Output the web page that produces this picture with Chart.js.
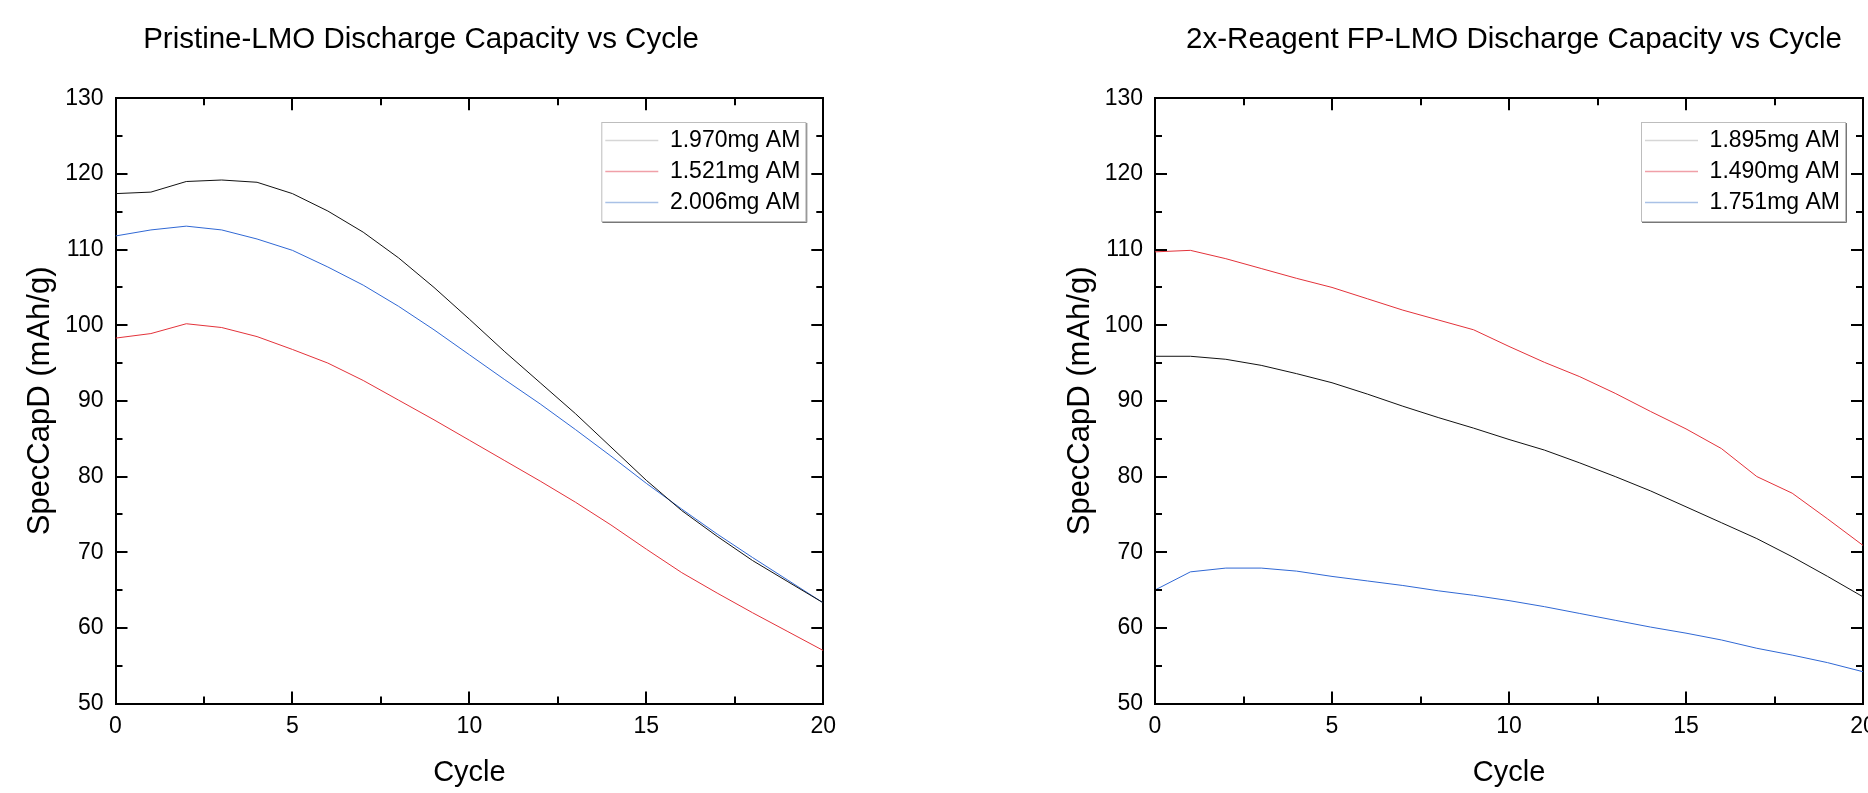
<!DOCTYPE html>
<html>
<head>
<meta charset="utf-8">
<title>Discharge Capacity vs Cycle</title>
<script src="https://cdn.jsdelivr.net/npm/chart.js@4.4.1/dist/chart.umd.min.js"></script>
<style>
  html, body { margin: 0; padding: 0; overflow: hidden; background: #fff; width: 1868px; height: 793px; }
  canvas { position: absolute; top: 0; }
  #left { left: 0; }
  #right { left: 934px; }
</style>
</head>
<body>
<canvas id="left" width="934" height="793"></canvas>
<canvas id="right" width="1160" height="793"></canvas>
<script>
const cycles = [0, 1, 2, 3, 4, 5, 6, 7, 8, 9, 10, 11, 12, 13, 14, 15, 16, 17, 18, 19, 20];

// Pristine-LMO
const pristineLabels = ['1.970mg AM', '1.521mg AM', '2.006mg AM'];
const pristine1970 = [117.4, 117.6, 119.0, 119.2, 118.9, 117.4, 115.1, 112.3, 108.9, 105.0, 100.8, 96.5, 92.4, 88.3, 83.9, 79.5, 75.5, 72.1, 68.9, 66.1, 63.3];
const pristine1521 = [98.3, 98.9, 100.2, 99.7, 98.5, 96.8, 95.0, 92.7, 90.1, 87.5, 84.8, 82.1, 79.4, 76.6, 73.6, 70.4, 67.3, 64.6, 62.0, 59.5, 57.0];
const pristine2006 = [111.8, 112.6, 113.1, 112.6, 111.4, 109.9, 107.7, 105.3, 102.5, 99.4, 96.1, 92.8, 89.6, 86.2, 82.7, 79.1, 75.7, 72.4, 69.3, 66.3, 63.3];

// 2x-Reagent FP-LMO
const reagentLabels = ['1.895mg AM', '1.490mg AM', '1.751mg AM'];
const reagent1895 = [95.9, 95.9, 95.5, 94.7, 93.6, 92.4, 90.9, 89.3, 87.8, 86.4, 84.9, 83.5, 81.8, 80.0, 78.1, 76.0, 73.9, 71.8, 69.4, 66.8, 64.1];
const reagent1490 = [109.7, 109.9, 108.8, 107.5, 106.2, 105.0, 103.5, 102.0, 100.7, 99.4, 97.2, 95.1, 93.2, 91.0, 88.6, 86.3, 83.7, 80.0, 77.8, 74.4, 70.9];
const reagent1751 = [65.0, 67.4, 67.9, 67.9, 67.5, 66.8, 66.2, 65.6, 64.9, 64.3, 63.6, 62.8, 61.9, 61.0, 60.1, 59.3, 58.4, 57.3, 56.4, 55.4, 54.2];

const lineColors = ['#111111', '#e3323a', '#3068d4'];
const legendColors = ['#d6d6d6', '#f0a0a8', '#a9c1e6'];
const FONT = '"Liberation Sans", Arial, sans-serif';

Chart.defaults.font.family = FONT;
Chart.defaults.color = '#000';

// inward major + minor ticks on all four sides
const frameTicks = {
  id: 'frameTicks',
  afterDatasetsDraw(chart) {
    const { ctx, chartArea: a, scales: { x, y } } = chart;
    const xMajor = x.ticks.map(t => t.value);
    const yMajor = y.ticks.map(t => t.value);
    const mids = v => v.slice(1).map((t, i) => (t + v[i]) / 2);
    ctx.save();
    ctx.strokeStyle = '#000';
    ctx.lineWidth = 2;
    ctx.beginPath();
    const vt = (val, len) => {
      const px = Math.round(x.getPixelForValue(val));
      ctx.moveTo(px, a.bottom); ctx.lineTo(px, a.bottom - len);
      ctx.moveTo(px, a.top); ctx.lineTo(px, a.top + len);
    };
    const ht = (val, len) => {
      const py = Math.round(y.getPixelForValue(val));
      ctx.moveTo(a.left, py); ctx.lineTo(a.left + len, py);
      ctx.moveTo(a.right, py); ctx.lineTo(a.right - len, py);
    };
    xMajor.forEach(v => vt(v, 12));
    mids(xMajor).forEach(v => vt(v, 7));
    yMajor.forEach(v => ht(v, 12));
    mids(yMajor).forEach(v => ht(v, 7));
    ctx.stroke();
    ctx.restore();
  }
};

// boxed legend inside the plot, top right
const insetLegend = {
  id: 'insetLegend',
  afterDraw(chart) {
    const { ctx, chartArea: a } = chart;
    const left = a.right - 222, right = a.right - 18, top = Math.round(a.top + 24), h = 99;
    ctx.save();
    ctx.fillStyle = '#fff';
    ctx.fillRect(left, top, right - left, h);
    ctx.strokeStyle = '#bdbdbd';
    ctx.lineWidth = 1;
    ctx.strokeRect(left + 0.5, top + 0.5, right - left, h);
    ctx.strokeStyle = '#777';
    ctx.beginPath();
    ctx.moveTo(left + 1, top + h + 1.5);
    ctx.lineTo(right + 1.5, top + h + 1.5);
    ctx.lineTo(right + 1.5, top + 1);
    ctx.stroke();
    ctx.font = '23px ' + FONT;
    ctx.textAlign = 'right';
    ctx.textBaseline = 'middle';
    chart.data.datasets.forEach((ds, i) => {
      const cy = top + 18.5 + i * 31;
      ctx.strokeStyle = legendColors[i];
      ctx.lineWidth = 1.3;
      ctx.beginPath();
      ctx.moveTo(a.right - 218, cy);
      ctx.lineTo(a.right - 165, cy);
      ctx.stroke();
      ctx.fillStyle = '#000';
      ctx.fillText(ds.label, a.right - 23, cy);
    });
    ctx.restore();
  }
};

const frameAxis = (position, min, max, fit) => ({
  type: 'linear', position, min, max,
  ticks: { display: false },
  grid: { display: false, drawTicks: false },
  border: { display: true, color: '#000', width: 2 },
  afterFit: fit
});

function makeChart(id, title, labels, series, g) {
  return new Chart(document.getElementById(id), {
    type: 'line',
    data: {
      datasets: series.map((vals, i) => ({
        label: labels[i],
        data: cycles.map((c, j) => ({ x: c, y: vals[j] })),
        borderColor: lineColors[i],
        borderWidth: 1,
        pointRadius: 0,
        tension: 0,
        fill: false
      }))
    },
    options: {
      responsive: false,
      animation: false,
      events: [],
      layout: { padding: { left: 0, right: g.padRight, top: 0, bottom: 0 } },
      plugins: {
        legend: { display: false },
        tooltip: { enabled: false },
        title: {
          display: true,
          text: title,
          color: '#000',
          font: { size: 29.5, weight: 'normal' },
          padding: { top: 22.3, bottom: 40.6 }
        }
      },
      scales: {
        x: {
          type: 'linear', position: 'bottom', min: 0, max: 20,
          ticks: { stepSize: 5, color: '#000', font: { size: 23 }, padding: 9.5, maxRotation: 0 },
          grid: { display: false, drawTicks: false },
          border: { display: true, color: '#000', width: 2 },
          title: { display: true, text: 'Cycle', color: '#000', font: { size: 29 }, padding: { top: 0, bottom: 2.3 } },
          afterFit: s => { s.height = 89.5; }
        },
        y: {
          type: 'linear', position: 'left', min: 50, max: 130,
          ticks: { stepSize: 10, color: '#000', font: { size: 23 }, padding: 12 },
          grid: { display: false, drawTicks: false },
          border: { display: true, color: '#000', width: 2 },
          title: { display: true, text: 'SpecCapD (mAh/g)', color: '#000', font: { size: 31 }, padding: { top: g.yTitlePad, bottom: 0 } },
          afterFit: s => { s.width = g.yWidth; }
        },
        x2: frameAxis('top', 0, 20, s => { s.height = 0; }),
        y2: frameAxis('right', 50, 130, s => { s.width = g.rightWidth; })
      }
    },
    plugins: [frameTicks, insetLegend]
  });
}

makeChart('left', 'Pristine-LMO Discharge Capacity vs Cycle', pristineLabels,
  [pristine1970, pristine1521, pristine2006],
  { yWidth: 115.5, rightWidth: 18.7, padRight: 92, yTitlePad: 21.6 });

makeChart('right', '2x-Reagent FP-LMO Discharge Capacity vs Cycle', reagentLabels,
  [reagent1895, reagent1490, reagent1751],
  { yWidth: 221, rightWidth: 231, padRight: 0, yTitlePad: 127.4 });
</script>
</body>
</html>
